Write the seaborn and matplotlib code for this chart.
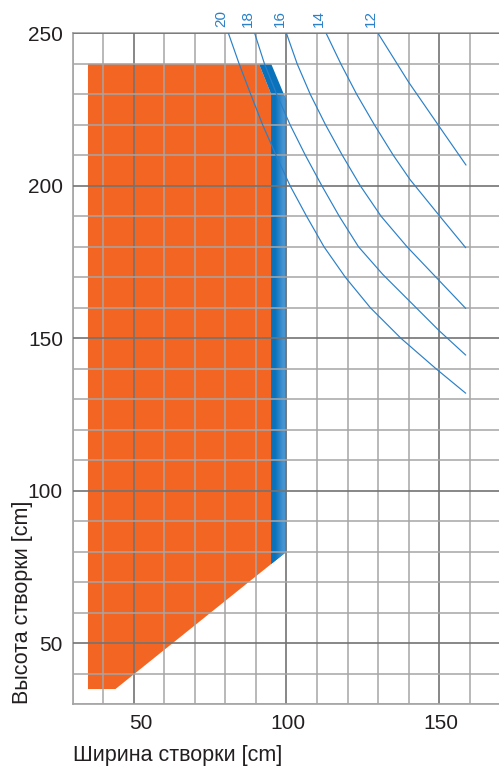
import matplotlib
matplotlib.use("Agg")
import matplotlib.pyplot as plt
import matplotlib.transforms as mtransforms
from matplotlib.colors import LinearSegmentedColormap
from matplotlib.ticker import MultipleLocator
import pandas as pd
import seaborn as sns

# usable sash area (orange) and extended area (blue), in cm
ORANGE_X = [35, 44, 95, 95, 91, 35]
ORANGE_Y = [35, 35, 76, 230, 240, 240]
BLUE_X = [91, 95, 100, 100, 95, 95]
BLUE_Y = [240, 240, 228, 80, 76, 230]

# weight limit curves (labels on top of the chart)
WEIGHTS = ["20", "18", "16", "14", "12"]
W20_X = [81, 84.5, 88.3, 92.2, 96.6, 101.2, 106.6, 112.3, 119.3, 127.5, 137.5, 149, 158.7]
W20_Y = [250, 240, 230, 220, 210, 200, 190, 180, 170, 160, 150, 140, 132]
W18_X = [89.6, 92.8, 96.8, 101.2, 106.2, 111.6, 117.3, 123.6, 131.5, 140, 150, 158.7]
W18_Y = [250, 240, 230, 220, 210, 200, 190, 180, 171, 162.5, 152.5, 144.5]
W16_X = [100, 103.5, 107.8, 112.8, 118.3, 124.2, 131, 139.5, 149, 158.7]
W16_Y = [250, 240, 230, 220, 210, 200, 190, 180, 170, 159.8]
W14_X = [113, 117.8, 123, 128.8, 135, 140.5, 150, 158.7]
W14_Y = [250, 240, 230, 220, 210, 202, 190.3, 179.7]
W12_X = [130, 140, 150, 158.8]
W12_Y = [250, 234, 219.5, 206.8]

X_TICKS = [50, 100, 150]
Y_TICKS = [50, 100, 150, 200, 250]

ORANGE = "#f26522"
BLUE_DARK = "#0a72bb"
BLUE_LIGHT = "#4593d1"
LINE_BLUE = "#2a80c8"

sns.set_theme(style="white")
plt.rcParams["font.family"] = ["Liberation Sans", "DejaVu Sans"]

curves = pd.concat(
    [
        pd.DataFrame({"weight": w, "width": xs, "height": ys})
        for w, xs, ys in zip(
            WEIGHTS,
            [W20_X, W18_X, W16_X, W14_X, W12_X],
            [W20_Y, W18_Y, W16_Y, W14_Y, W12_Y],
        )
    ],
    ignore_index=True,
)

fig = plt.figure(figsize=(4.99, 7.69), dpi=100)
ax = fig.add_axes([72.7 / 499, 1 - 704.3 / 769, 427.5 / 499, 671 / 769])

ax.fill(ORANGE_X, ORANGE_Y, color=ORANGE, lw=0, zorder=1)
blue_poly = ax.fill(BLUE_X, BLUE_Y, color=BLUE_DARK, lw=0, zorder=1)[0]

# horizontal shading on the blue strip, clipped to its outline
shade = LinearSegmentedColormap.from_list("strip", [BLUE_DARK, BLUE_LIGHT])
img = ax.imshow(
    [[0, 1]], cmap=shade, extent=(95, 100, 76, 230), aspect="auto",
    interpolation="bilinear", zorder=1.2,
)
img.set_clip_path(blue_poly)

sns.lineplot(
    data=curves, x="width", y="height", units="weight", estimator=None,
    sort=False, color=LINE_BLUE, lw=0.85, ax=ax, zorder=3,
)

for w in WEIGHTS:
    start = curves[curves["weight"] == w].iloc[0]
    ax.annotate(
        w, (start["width"], 250), xytext=(0, 6), textcoords="offset pixels",
        rotation=90, ha="right", va="bottom", fontsize=11, color=LINE_BLUE,
        annotation_clip=False,
    )

ax.set_xlim(30, 170)
ax.set_ylim(30, 250)
ax.set_xticks(X_TICKS)
ax.set_yticks(Y_TICKS)
ax.xaxis.set_minor_locator(MultipleLocator(10))
ax.yaxis.set_minor_locator(MultipleLocator(10))
ax.set_axisbelow(False)
ax.grid(which="minor", color="#a6a6a6", lw=1.1)
ax.grid(which="major", color="#737373", lw=1.2)
ax.tick_params(which="both", length=0, labelsize=15, labelcolor="#231f20", pad=7)

for side, sp in ax.spines.items():
    sp.set_visible(side != "right")
    sp.set_color("#9a9a9a")
    sp.set_linewidth(1.1)

# x tick labels sit right-aligned a bit to the right of their grid line
shift = mtransforms.ScaledTranslation(0.19, 0, fig.dpi_scale_trans)
for lbl in ax.get_xticklabels():
    lbl.set_horizontalalignment("right")
    lbl.set_transform(lbl.get_transform() + shift)

ax.set_xlabel("Ширина створки [cm]", fontsize=15.5, color="#231f20", loc="left")
ax.xaxis.set_label_coords(0, -0.061)
ax.set_ylabel("Высота створки [cm]", fontsize=15.5, color="#231f20", loc="bottom")
ax.yaxis.set_label_coords(-0.093, 0)

fig.savefig("out.png", dpi=100)
